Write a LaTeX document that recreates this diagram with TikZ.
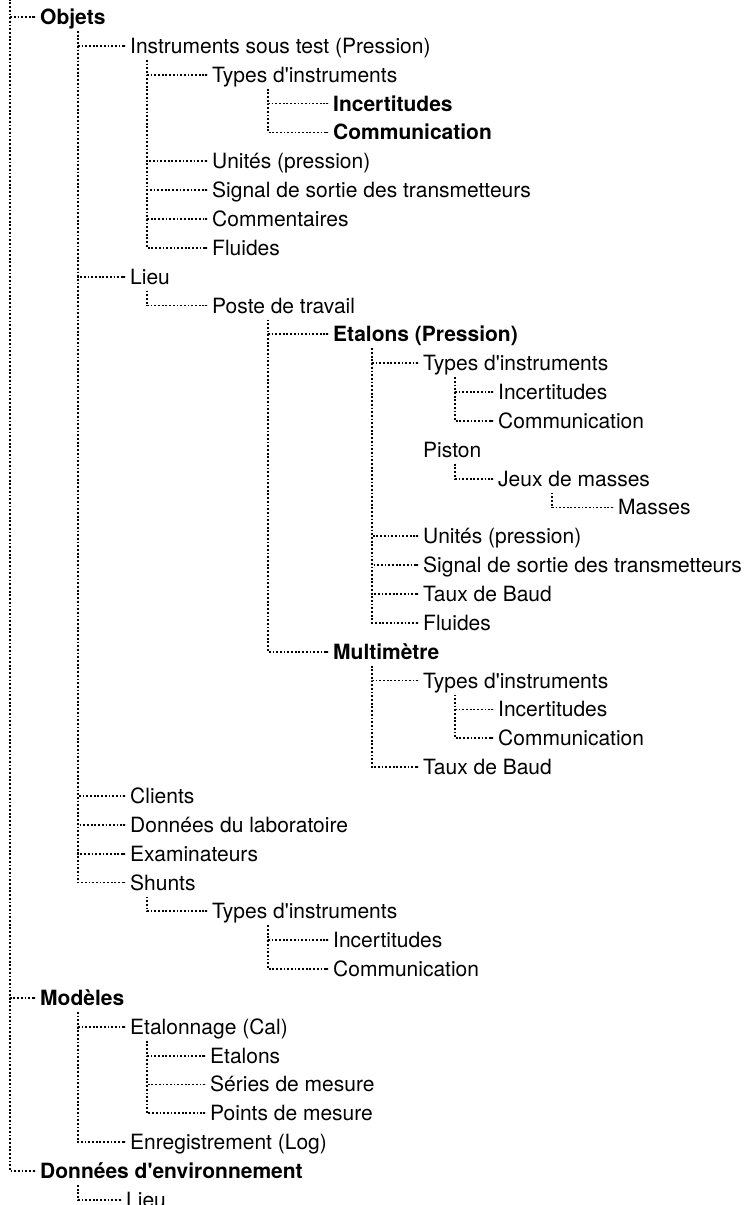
\documentclass[tikz,border=0pt]{standalone}
\usepackage{fontspec}
\setmainfont{TeX Gyre Heros}
\usetikzlibrary{arrows.meta}
\newcommand{\ap}{\textquotesingle}
\tikzset{
  lbl/.style={anchor=west,inner sep=0pt,text height=15pt,text depth=0pt,font=\fontsize{21}{25}\selectfont},
  hd/.style={lbl,font=\fontsize{21}{25}\selectfont\bfseries},
  branch/.style={line width=1.8pt,dash pattern=on 1.8pt off 1.9pt,-{Rectangle[length=4pt,width=1.8pt]},shorten >=4pt},
}
\begin{document}
\begin{tikzpicture}[x=1pt,y=-1pt]
\pgfmathsetmacro{\ko}{17}
\pgfmathsetmacro{\ky}{28.85}
\pgfmathsetmacro{\kt}{14}
\useasboundingbox (0,0) rectangle (745,1205);
%
\node[hd]  (objets) at (40,{\ko+0*\ky}) {Objets};
\node[lbl] (instr)  at (130,{\ko+1*\ky}) {Instruments sous test (Pression)};
\node[lbl] (typesI) at (212,{\ko+2*\ky}) {Types d\ap instruments};
\node[hd]  (incI)   at (333,{\ko+3*\ky}) {Incertitudes};
\node[hd]  (comI)   at (333,{\ko+4*\ky}) {Communication};
\node[lbl] (unitI)  at (212,{\ko+5*\ky}) {Unités (pression)};
\node[lbl] (sigI)   at (212,{\ko+6*\ky}) {Signal de sortie des transmetteurs};
\node[lbl] (remI)   at (212,{\ko+7*\ky}) {Commentaires};
\node[lbl] (fluI)   at (212,{\ko+8*\ky}) {Fluides};
\node[lbl] (lieu)   at (130,{\ko+9*\ky}) {Lieu};
\node[lbl] (poste)  at (212,{\ko+10*\ky}) {Poste de travail};
\node[hd]  (etal)   at (333,{\ko+11*\ky}) {Etalons (Pression)};
\node[lbl] (typesE) at (423,{\ko+12*\ky}) {Types d\ap instruments};
\node[lbl] (incE)   at (498,{\ko+13*\ky}) {Incertitudes};
\node[lbl] (comE)   at (498,{\ko+14*\ky}) {Communication};
\node[lbl] (piston) at (423,{\ko+15*\ky}) {Piston};
\node[lbl] (jeux)   at (498,{\ko+16*\ky}) {Jeux de masses};
\node[lbl] (masses) at (618,{\ko+17*\ky}) {Masses};
\node[lbl] (unitE)  at (423,{\ko+18*\ky}) {Unités (pression)};
\node[lbl] (sigE)   at (423,{\ko+19*\ky}) {Signal de sortie des transmetteurs};
\node[lbl] (baudE)  at (423,{\ko+20*\ky}) {Taux de Baud};
\node[lbl] (fluE)   at (423,{\ko+21*\ky}) {Fluides};
\node[hd]  (multi)  at (333,{\ko+22*\ky}) {Multimètre};
\node[lbl] (typesM) at (423,{\ko+23*\ky}) {Types d\ap instruments};
\node[lbl] (incM)   at (498,{\ko+24*\ky}) {Incertitudes};
\node[lbl] (comM)   at (498,{\ko+25*\ky}) {Communication};
\node[lbl] (baudM)  at (423,{\ko+26*\ky}) {Taux de Baud};
\node[lbl] (clients) at (130,{\ko+27*\ky}) {Clients};
\node[lbl] (labo)   at (130,{\ko+28*\ky}) {Données du laboratoire};
\node[lbl] (exam)   at (130,{\ko+29*\ky}) {Examinateurs};
\node[lbl] (shunts) at (130,{\ko+30*\ky}) {Shunts};
\node[lbl] (typesS) at (212,{\ko+31*\ky}) {Types d\ap instruments};
\node[lbl] (incS)   at (333,{\ko+32*\ky}) {Incertitudes};
\node[lbl] (comS)   at (333,{\ko+33*\ky}) {Communication};
\node[hd]  (modeles) at (40,{\ko+34*\ky}) {Modèles};
\node[lbl] (cal)    at (130,{\ko+35*\ky}) {Etalonnage (Cal)};
\node[lbl] (etalC)  at (210,{\ko+36*\ky}) {Etalons};
\node[lbl] (series) at (210,{\ko+37*\ky}) {Séries de mesure};
\node[lbl] (points) at (210,{\ko+38*\ky}) {Points de mesure};
\node[lbl] (logg)   at (130,{\ko+39*\ky}) {Enregistrement (Log)};
\node[hd]  (env)    at (40,{\ko+40*\ky}) {Données d\ap environnement};
\node[lbl] (lieuV)  at (126,{\ko+41*\ky}) {Lieu};
%
\coordinate (t-root)   at (10,-5);
\coordinate (t-objets) at (78,{\ko+0*\ky+\kt});
\coordinate (t-instr)  at (147,{\ko+1*\ky+\kt});
\coordinate (t-typesI) at (268,{\ko+2*\ky+\kt});
\coordinate (t-lieu)   at (147,{\ko+9*\ky+\kt});
\coordinate (t-poste)  at (268,{\ko+10*\ky+\kt});
\coordinate (t-etal)   at (372,{\ko+11*\ky+\kt});
\coordinate (t-typesE) at (455,{\ko+12*\ky+\kt});
\coordinate (t-piston) at (455,{\ko+15*\ky+\kt});
\coordinate (t-jeux)   at (552,{\ko+16*\ky+\kt});
\coordinate (t-multi)  at (372,{\ko+22*\ky+\kt});
\coordinate (t-typesM) at (455,{\ko+23*\ky+\kt});
\coordinate (t-shunts) at (147,{\ko+30*\ky+\kt});
\coordinate (t-typesS) at (268,{\ko+31*\ky+\kt});
\coordinate (t-modeles) at (78,{\ko+34*\ky+\kt});
\coordinate (t-cal)    at (147,{\ko+35*\ky+\kt});
\coordinate (t-env)    at (78,{\ko+40*\ky+\kt});
%
\draw[branch] (t-root) |- (objets.west);
\draw[branch] (t-root) |- (modeles.west);
\draw[branch] (t-root) |- (env.west);
%
\draw[branch] (t-objets) |- (instr.west);
\draw[branch] (t-objets) |- (lieu.west);
\draw[branch] (t-objets) |- (clients.west);
\draw[branch] (t-objets) |- (labo.west);
\draw[branch] (t-objets) |- (exam.west);
\draw[branch] (t-objets) |- (shunts.west);
%
\draw[branch] (t-instr) |- (typesI.west);
\draw[branch] (t-instr) |- (unitI.west);
\draw[branch] (t-instr) |- (sigI.west);
\draw[branch] (t-instr) |- (remI.west);
\draw[branch] (t-instr) |- (fluI.west);
\draw[branch] (t-typesI) |- (incI.west);
\draw[branch] (t-typesI) |- (comI.west);
%
\draw[branch] (t-lieu) |- (poste.west);
\draw[branch] (t-poste) |- (etal.west);
\draw[branch] (t-poste) |- (multi.west);
%
\draw[branch] (t-etal) |- (typesE.west);
\draw[branch] (t-etal) |- (unitE.west);
\draw[branch] (t-etal) |- (sigE.west);
\draw[branch] (t-etal) |- (baudE.west);
\draw[branch] (t-etal) |- (fluE.west);
\draw[branch] (t-typesE) |- (incE.west);
\draw[branch] (t-typesE) |- (comE.west);
\draw[branch] (t-piston) |- (jeux.west);
\draw[branch] (t-jeux) |- (masses.west);
%
\draw[branch] (t-multi) |- (typesM.west);
\draw[branch] (t-multi) |- (baudM.west);
\draw[branch] (t-typesM) |- (incM.west);
\draw[branch] (t-typesM) |- (comM.west);
%
\draw[branch] (t-shunts) |- (typesS.west);
\draw[branch] (t-typesS) |- (incS.west);
\draw[branch] (t-typesS) |- (comS.west);
%
\draw[branch] (t-modeles) |- (cal.west);
\draw[branch] (t-modeles) |- (logg.west);
\draw[branch] (t-cal) |- (etalC.west);
\draw[branch] (t-cal) |- (series.west);
\draw[branch] (t-cal) |- (points.west);
%
\draw[branch] (t-env) |- (lieuV.west);
\end{tikzpicture}
\end{document}
